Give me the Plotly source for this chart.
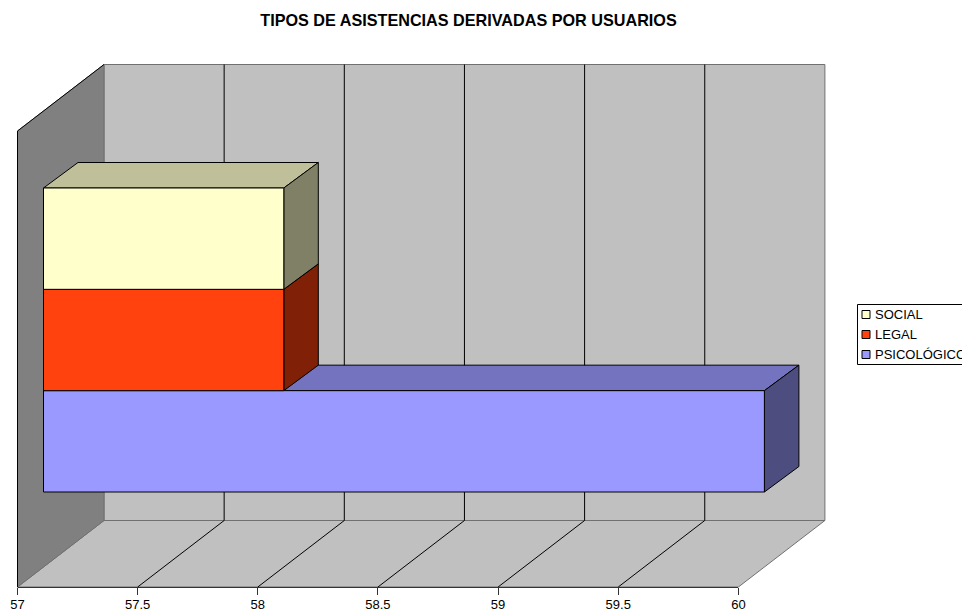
"""
Excel-style 3D clustered bar chart: TIPOS DE ASISTENCIAS DERIVADAS POR USUARIOS
Bars are real Plotly bars; walls and depth faces are projected from the same scale.
"""

import plotly.graph_objects as go

# data
SERIES = ["PSICOLÓGICO", "LEGAL", "SOCIAL"]
VALUES = [60, 58, 58]
CATEGORY = ["USUARIOS"]
TICKS = [57, 57.5, 58, 58.5, 59, 59.5, 60]
TICK_LABELS = ["57", "57.5", "58", "58.5", "59", "59.5", "60"]
TITLE = "TIPOS DE ASISTENCIAS DERIVADAS POR USUARIOS"

# colours: front, top, side
FRONT = ["#9999FF", "#FF420E", "#FFFFCC"]
TOP = ["#7373BF", "#BF320B", "#BFBF99"]
SIDE = ["#4D4D80", "#802107", "#808066"]
WALL = "#C0C0C0"
SIDE_WALL = "#808080"
EDGE = "#707070"
FONT = "Liberation Sans"

# page geometry (px)
W, H = 962, 610
X_MIN, X_MAX = TICKS[0], TICKS[-1]
PX_X = 240.3  # px per axis unit
PX_Y = 456.0  # px per category band
AXIS_LEFT, AXIS_BOTTOM = 17.5, 587.0
BAR_LEFT, BAR_CENTER = 43.5, 340.0
BARGAP = 1 / 3

# depth offsets in data units, measured from the bar front plane
to_x = lambda px: px / PX_X
to_y = lambda px: px / PX_Y
BAR_DX, BAR_DY = to_x(34.5), to_y(25.5)
FRONT_DX = to_x(AXIS_LEFT - BAR_LEFT)

range_x = [X_MIN - to_x(BAR_LEFT), X_MIN + to_x(W - BAR_LEFT)]
range_y = [-to_y(H - BAR_CENTER), to_y(BAR_CENTER)]
AXIS_FRONT_Y = to_y(BAR_CENTER - AXIS_BOTTOM)
AXIS_TOP_Y = AXIS_FRONT_Y + 1.0
BACK_Y0 = AXIS_FRONT_Y + to_y(66.5)
BACK_Y1 = AXIS_TOP_Y + to_y(66.5)


def polygon(fig, xs, ys, fill, line="#000000", width=1):
    fig.add_trace(go.Scatter(
        x=xs + xs[:1], y=ys + ys[:1], mode="lines", fill="toself", fillcolor=fill,
        line=dict(color=line, width=width), showlegend=False, hoverinfo="skip",
        xaxis="x", yaxis="y",
    ))


def polyline(fig, xs, ys, color, width=1):
    fig.add_trace(go.Scatter(
        x=xs, y=ys, mode="lines", line=dict(color=color, width=width),
        showlegend=False, hoverinfo="skip", xaxis="x", yaxis="y",
    ))


fig = go.Figure()

x0_front = X_MIN + FRONT_DX
x1_front = X_MAX + FRONT_DX
x0_back = x0_front + to_x(86.5)
x1_back = x1_front + to_x(86.5)

# back wall, floor and side wall
polygon(fig, [x0_back, x1_back, x1_back, x0_back], [BACK_Y0, BACK_Y0, BACK_Y1, BACK_Y1], WALL, EDGE)
polygon(fig, [x0_front, x1_front, x1_back, x0_back], [AXIS_FRONT_Y, AXIS_FRONT_Y, BACK_Y0, BACK_Y0], WALL, EDGE)
polygon(fig, [x0_front, x0_back, x0_back, x0_front], [AXIS_FRONT_Y, BACK_Y0, BACK_Y1, AXIS_TOP_Y], SIDE_WALL, EDGE)
polyline(fig, [x0_front, x0_front, x0_back], [AXIS_FRONT_Y, AXIS_TOP_Y, BACK_Y1], "#000000")

# gridlines run across the floor and up the back wall
for tick in TICKS[1:-1]:
    x_f = tick + FRONT_DX
    x_b = x_f + to_x(86.5)
    polyline(fig, [x_f, x_b, x_b], [AXIS_FRONT_Y, BACK_Y0, BACK_Y1], "#000000")

# depth faces of the bars
bar_h = (1 - BARGAP) / len(SERIES)
for i, value in enumerate(VALUES):
    y0 = -(1 - BARGAP) / 2 + i * bar_h
    y1 = y0 + bar_h
    polygon(fig, [X_MIN, value, value + BAR_DX, X_MIN + BAR_DX], [y1, y1, y1 + BAR_DY, y1 + BAR_DY], TOP[i])
    polygon(fig, [value, value + BAR_DX, value + BAR_DX, value], [y0, y0 + BAR_DY, y1 + BAR_DY, y1], SIDE[i])

# visible value axis, in its own domain along the floor's front edge
fig.add_trace(go.Scatter(
    x=[X_MIN, X_MAX], y=[0, 0], mode="lines", line=dict(color="rgba(0,0,0,0)"),
    showlegend=False, hoverinfo="skip", xaxis="x2", yaxis="y2",
))

# front faces: the real bars
for name, value, color in zip(SERIES, VALUES, FRONT):
    fig.add_trace(go.Bar(
        name=name, y=CATEGORY, x=[value - X_MIN], base=X_MIN, orientation="h",
        marker=dict(color=color, line=dict(color="#000000", width=1)),
        showlegend=False, xaxis="x3", yaxis="y3",
    ))

# legend, hand built because it runs past the page edge like the original
LEG_LEFT, LEG_TOP, LEG_ROW = 857.5, 304.5, 20.0
shapes = [dict(
    type="rect", xref="paper", yref="paper",
    x0=LEG_LEFT / W, x1=(W + 20) / W,
    y0=1 - (LEG_TOP + 60) / H, y1=1 - LEG_TOP / H,
    line=dict(color="#000000", width=1), fillcolor="#FFFFFF",
)]
annotations = []
for row, (name, color) in enumerate(zip(SERIES[::-1], FRONT[::-1])):
    cy = LEG_TOP + 10 + row * LEG_ROW
    shapes.append(dict(
        type="rect", xref="paper", yref="paper",
        x0=(LEG_LEFT + 4.5) / W, x1=(LEG_LEFT + 12.5) / W,
        y0=1 - (cy + 4) / H, y1=1 - (cy - 4) / H,
        line=dict(color="#000000", width=1), fillcolor=color,
    ))
    annotations.append(dict(
        text=name, xref="paper", yref="paper", x=(LEG_LEFT + 15) / W, y=1 - cy / H,
        xanchor="left", yanchor="middle", showarrow=False, xshift=0,
        font=dict(family=FONT, size=13, color="#000000"),
    ))

hidden = dict(visible=False, fixedrange=True, automargin=False)
fig.update_layout(
    width=W, height=H, autosize=False,
    margin=dict(l=0, r=0, t=0, b=0),
    paper_bgcolor="#FFFFFF", plot_bgcolor="rgba(0,0,0,0)",
    font=dict(family=FONT, color="#000000"),
    showlegend=False,
    barmode="group", bargap=BARGAP, bargroupgap=0,
    title=dict(
        text=f"<b>{TITLE}</b>", x=468.5 / W, xref="paper", xanchor="center",
        y=1 - 20.5 / H, yref="paper", yanchor="middle",
        font=dict(family=FONT, size=16.2, color="#000000"),
    ),
    xaxis=dict(range=range_x, domain=[0, 1], **hidden),
    yaxis=dict(range=range_y, domain=[0, 1], **hidden),
    xaxis3=dict(range=range_x, domain=[0, 1], anchor="y3", **hidden),
    yaxis3=dict(range=range_y, domain=[0, 1], anchor="x3", type="category", **hidden),
    xaxis2=dict(
        range=[X_MIN, X_MAX], domain=[AXIS_LEFT / W, (AXIS_LEFT + 3 * PX_X) / W],
        anchor="y2", tickmode="array", tickvals=TICKS, ticktext=TICK_LABELS,
        ticks="outside", ticklen=7, tickwidth=1, tickcolor="#333333",
        showline=True, linecolor="#333333", linewidth=1, showgrid=False, zeroline=False,
        tickfont=dict(family=FONT, size=13, color="#000000"), fixedrange=True,
        tickangle=0, automargin=False, ticklabelstandoff=-2,
    ),
    yaxis2=dict(
        range=[-1, 1], domain=[1 - AXIS_BOTTOM / H, 1 - (AXIS_BOTTOM - 10) / H],
        anchor="x2", **hidden,
    ),
    shapes=shapes,
    annotations=annotations,
)

# the page has to start at 0,0 with no body margin or scrollbars
fig.write_html(
    "out.html", config=dict(displayModeBar=False),
    post_script="document.body.style.margin='0';document.documentElement.style.overflow='hidden';",
)
